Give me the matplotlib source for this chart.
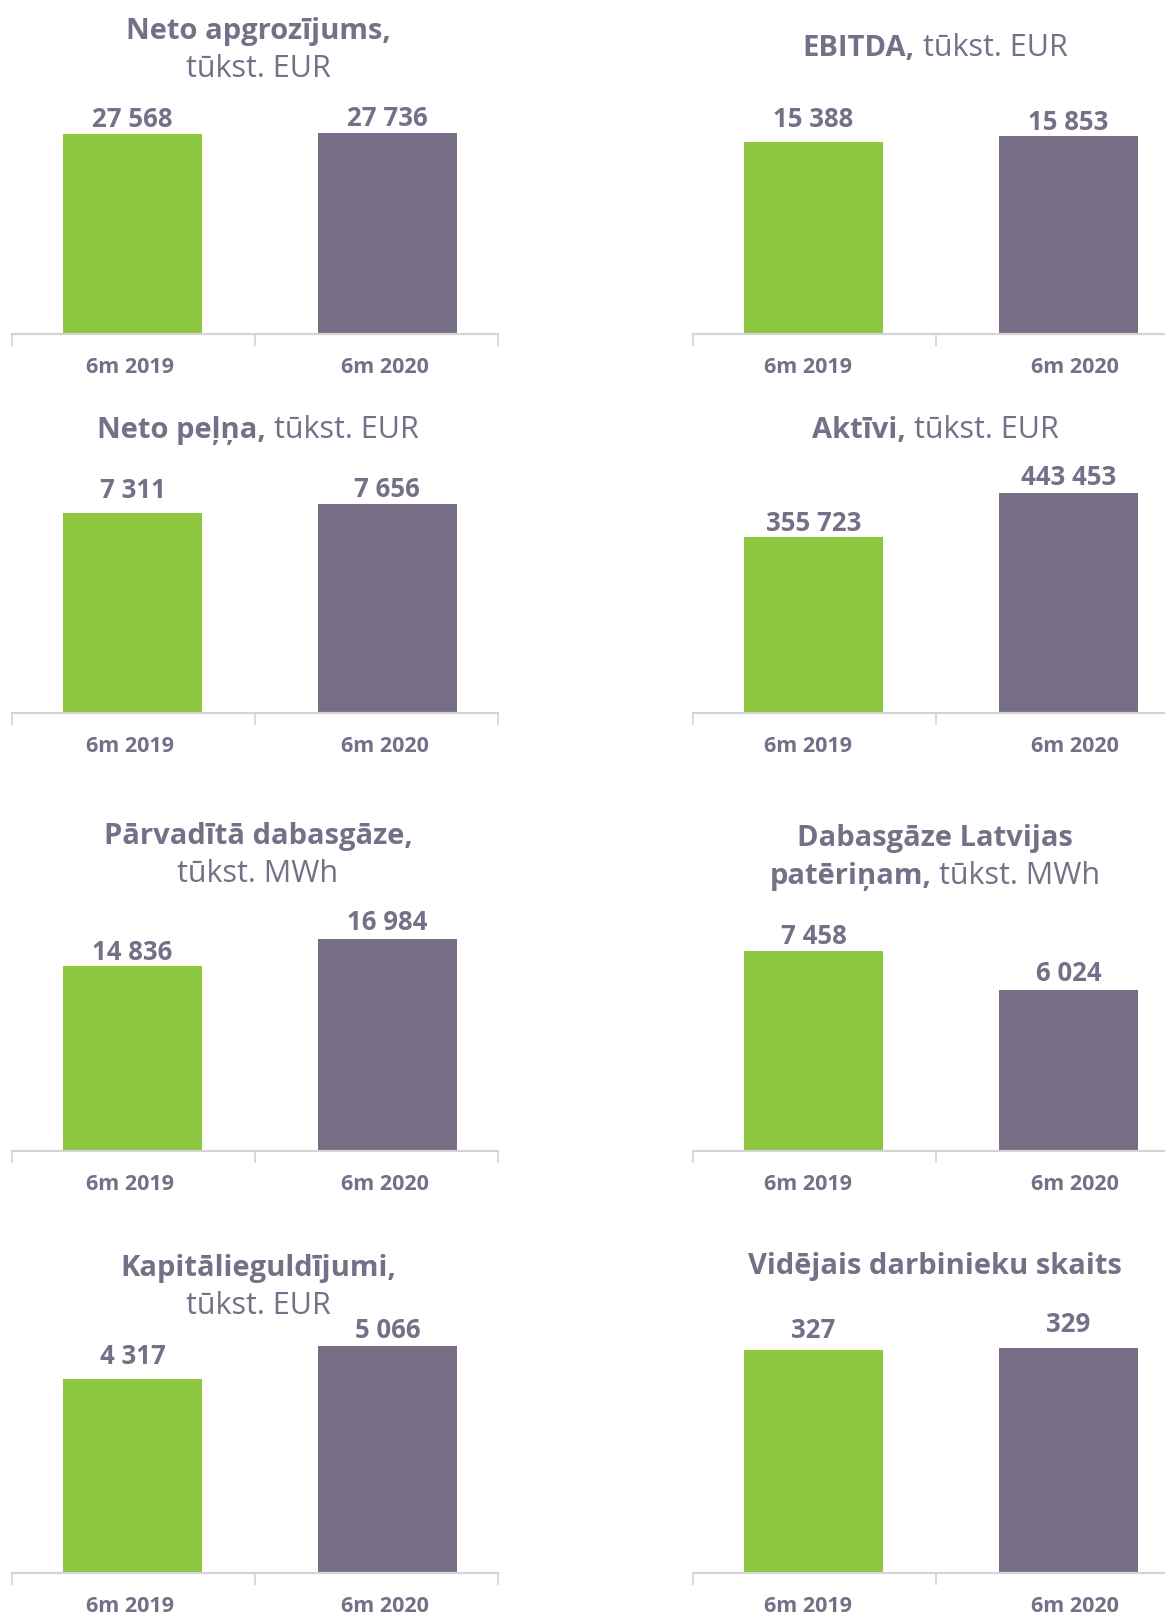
"""Key figures 6m 2019 vs 6m 2020, eight small bar panels."""

import matplotlib.pyplot as plt

plt.rcParams['font.family'] = ['Open Sans', 'DejaVu Sans']

W, H = 1165, 1615
GREEN = "#8DC63F"
PURPLE = "#776E86"
TEXT = "#776E87"
GRID = "#D4D4D4"

# Data ------------------------------------------------------------------------
categories = ["6m 2019", "6m 2020"]
revenue = [27568, 27736]
ebitda = [15388, 15853]
net_profit = [7311, 7656]
assets = [355723, 443453]
gas_transported = [14836, 16984]
gas_latvia = [7458, 6024]
capex = [4317, 5066]
employees = [327, 329]

panel_values = [revenue, ebitda, net_profit, assets,
                gas_transported, gas_latvia, capex, employees]

panel_titles = [
    [[("Neto apgrozījums,", "bold")], [("tūkst. EUR", "normal")]],
    [[("EBITDA,", "bold"), ("tūkst. EUR", "normal")]],
    [[("Neto peļņa,", "bold"), ("tūkst. EUR", "normal")]],
    [[("Aktīvi,", "bold"), ("tūkst. EUR", "normal")]],
    [[("Pārvadītā dabasgāze,", "bold")], [("tūkst. MWh", "normal")]],
    [[("Dabasgāze Latvijas", "bold")],
     [("patēriņam,", "bold"), ("tūkst. MWh", "normal")]],
    [[("Kapitālieguldījumi,", "bold")], [("tūkst. EUR", "normal")]],
    [[("Vidējais darbinieku skaits", "bold")]],
]

# Layout (pixels) -------------------------------------------------------------
row_axis_y = [335, 714, 1152, 1574]
col_x0 = [12, 693]
AX_W = 486
AX_H = 250
y_top = [34500, 20000, 9150, 505000, 20000, 9330, 5575, 366]
title_y = [39, 56, 438, 438, 844, 846, 1276, 1274]
label_lift = [[8, 8], [16, 7], [16, 8], [7, 9], [7, 10], [8, 10], [16, 9],
              [13, 17]]
cat_shift = [[-3, -2], [-6, 7]]  # per column, label offset from bar centre
LINE_GAP = 38
BAR_POS = [0.496, 1.545]
BAR_W = 0.572
PT = 0.72  # points per pixel at dpi 100

fig = plt.figure(figsize=(W / 100, H / 100), dpi=100)
renderer = fig.canvas.get_renderer()


def draw_title(lines, cx, y0):
    for k, segs in enumerate(lines):
        y = y0 + k * LINE_GAP
        texts = []
        for s, w in segs:
            texts.append(fig.text(0, 1 - y / H, s, color=TEXT, ha="left",
                                  va="baseline", fontweight=w,
                                  fontsize=21 if w == "bold" else 22))
        widths = [t.get_window_extent(renderer).width for t in texts]
        gap = 8
        total = sum(widths) + gap * (len(texts) - 1)
        x = cx - total / 2
        for t, wd in zip(texts, widths):
            t.set_x(x / W)
            x += wd + gap


for i, vals in enumerate(panel_values):
    row, col = divmod(i, 2)
    x0 = col_x0[col]
    ya = row_axis_y[row]
    ax = fig.add_axes([x0 / W, 1 - ya / H, AX_W / W, AX_H / H])
    ax.bar(BAR_POS, vals, width=BAR_W, color=[GREEN, PURPLE], zorder=1)
    ax.set_xlim(0, 2)
    ax.set_ylim(0, y_top[i])
    for s in ["top", "right", "left"]:
        ax.spines[s].set_visible(False)
    ax.spines["bottom"].set_color(GRID)
    ax.spines["bottom"].set_linewidth(1.6)
    ax.set_yticks([])
    ax.set_xticks([])
    ax.set_xticks([0, 1, 2], minor=True)
    ax.tick_params(axis="x", which="minor", length=12 * PT, width=1.2,
                   color=GRID, direction="out")
    ax.patch.set_alpha(0)

    for j, v in enumerate(vals):
        ax.annotate(f"{v:,}".replace(",", " "), xy=(BAR_POS[j], v),
                    xytext=(0, label_lift[i][j] * PT),
                    textcoords="offset points", ha="center", va="baseline",
                    fontsize=18.5, fontweight="bold", color=TEXT)
        ax.annotate(categories[j], xy=(BAR_POS[j], 0),
                    xycoords=("data", "axes fraction"),
                    xytext=(cat_shift[col][j] * PT, -38 * PT),
                    textcoords="offset points",
                    ha="center", va="baseline", fontsize=15.5,
                    fontweight="bold", color=TEXT, annotation_clip=False)

    cx = x0 + AX_W / 2 + (3 if col == 0 else -1)
    draw_title(panel_titles[i], cx, title_y[i])

fig.savefig("out.png", dpi=100, facecolor="white")
